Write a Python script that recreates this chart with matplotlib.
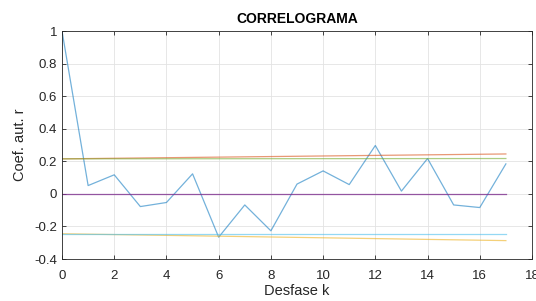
import matplotlib
matplotlib.use("Agg")
import matplotlib.pyplot as plt

# datos del correlograma
k = list(range(18))
r = [1.0, 0.051, 0.117, -0.078, -0.053, 0.123, -0.266, -0.068, -0.227, 0.060,
     0.141, 0.057, 0.297, 0.017, 0.217, -0.068, -0.084, 0.184]

# limites (extremos k=0 y k=17)
k_lim = [0, 17]
sup_1 = [0.215, 0.245]
inf_1 = [-0.245, -0.287]
cero = [0, 0]
sup_2 = [0.215, 0.217]
inf_2 = [-0.248, -0.248]

plt.rcParams["font.family"] = ["Liberation Sans", "DejaVu Sans"]

fig = plt.figure(figsize=(5.36, 3.01), dpi=100)
ax = fig.add_axes([0.1157, 0.1395, 0.8768, 0.7575])

ax.plot(k, r, color="#0072BD", lw=0.9, alpha=0.55)
ax.plot(k_lim, sup_1, color="#D95319", lw=0.9, alpha=0.6)
ax.plot(k_lim, inf_1, color="#EDB120", lw=0.9, alpha=0.6)
ax.plot(k_lim, cero, color="#7E2F8E", lw=0.9, alpha=0.8)
ax.plot(k_lim, sup_2, color="#77AC30", lw=0.9, alpha=0.6)
ax.plot(k_lim, inf_2, color="#4DBEEE", lw=0.9, alpha=0.6)

ax.set_xlim(0, 18)
ax.set_ylim(-0.4, 1)
ax.set_xticks(range(0, 19, 2))
ax.set_yticks([-0.4, -0.2, 0, 0.2, 0.4, 0.6, 0.8, 1])
ax.set_yticklabels(["-0.4", "-0.2", "0", "0.2", "0.4", "0.6", "0.8", "1"])
ax.grid(True, color="#e3e3e3", lw=0.6)
ax.set_axisbelow(True)
ax.tick_params(direction="in", top=True, right=True, labelsize=9.5,
               colors="#262626", length=3, width=0.6)
ax.tick_params(axis="x", pad=8)
for s in ax.spines.values():
    s.set_color("#262626")
    s.set_linewidth(0.6)

ax.set_title("CORRELOGRAMA", fontsize=10, fontweight="bold", pad=6)
ax.set_xlabel("Desfase k", fontsize=10.5, color="#262626", labelpad=1)
ax.set_ylabel("Coef. aut. r", fontsize=10.5, color="#262626", labelpad=5)

fig.savefig("out.png", dpi=100)
plt.close()
